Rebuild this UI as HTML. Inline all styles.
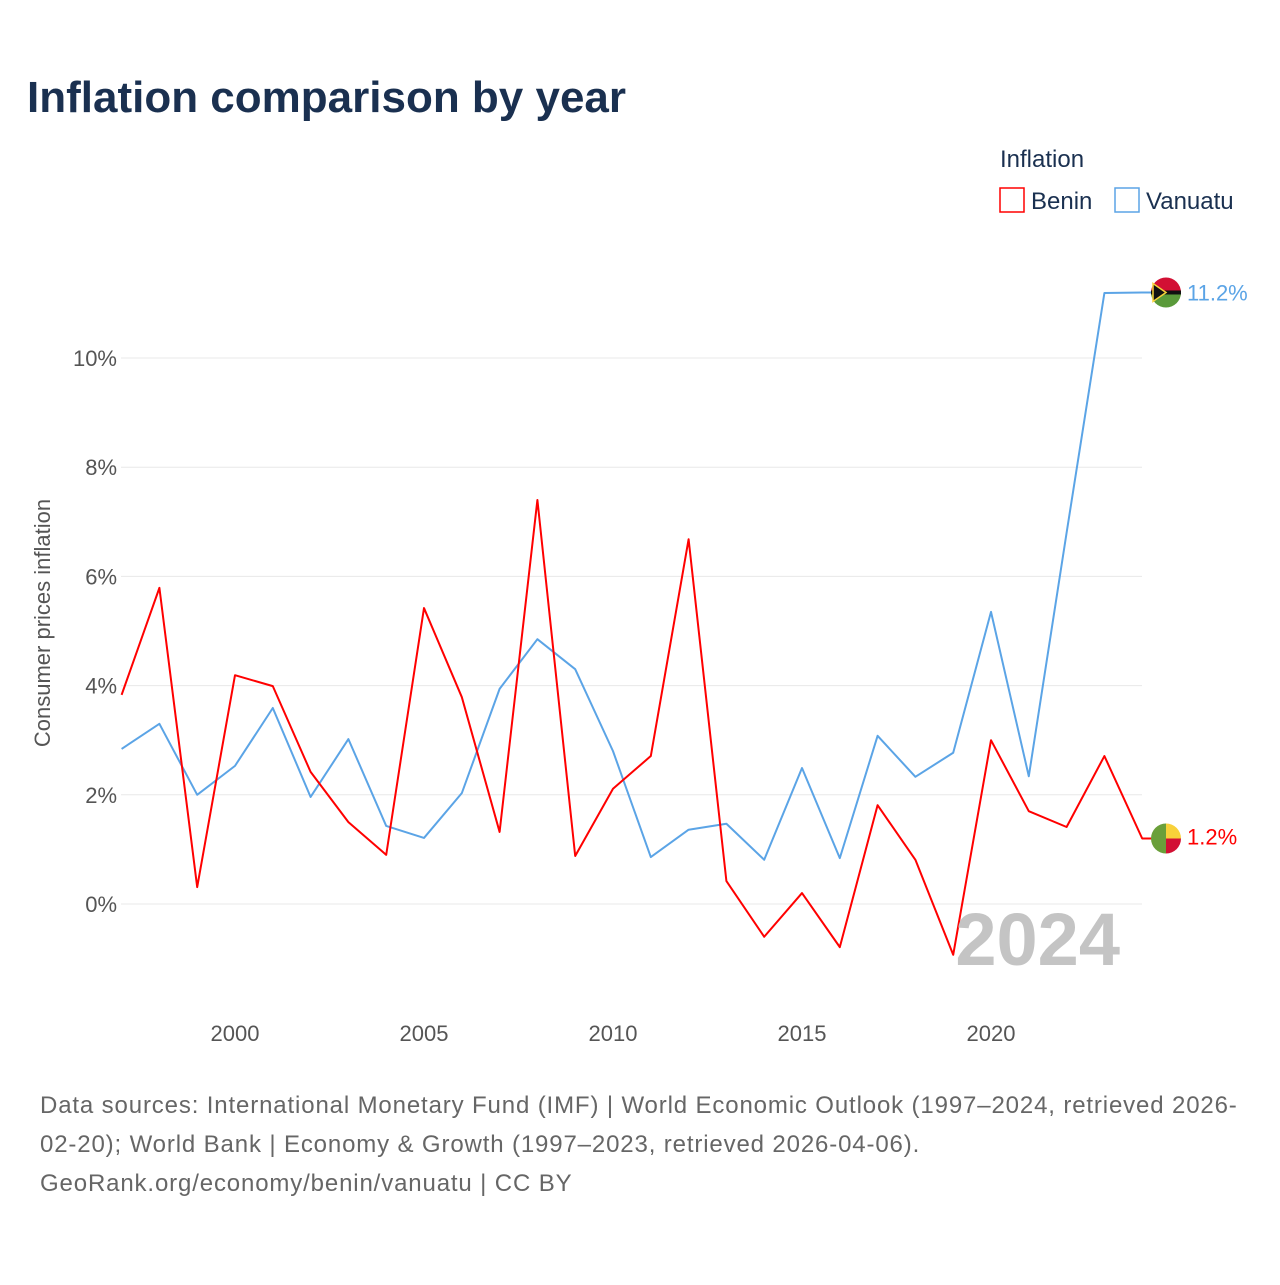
<!DOCTYPE html>
<html><head><meta charset="utf-8"><style>
body{margin:0;background:#fff;font-family:"Liberation Sans",sans-serif}
</style></head><body>
<svg width="1280" height="1280" id="chart" xmlns="http://www.w3.org/2000/svg">
<text x="27" y="112" font-size="44" font-weight="bold" fill="#1a3050">Inflation comparison by year</text>
<text x="1000" y="167" font-size="24" fill="#1a3050">Inflation</text>
<g><rect x="1000" y="188" width="24" height="24" fill="none" stroke="#ff0000" stroke-width="1.5"/><text x="1031" y="209" font-size="24" fill="#1a3050">Benin</text></g>
<g><rect x="1115" y="188" width="24" height="24" fill="none" stroke="#5ba4e6" stroke-width="1.5"/><text x="1146" y="209" font-size="24" fill="#1a3050">Vanuatu</text></g>
<text transform="translate(50,623) rotate(-90)" text-anchor="middle" font-size="22" fill="#555">Consumer prices inflation</text>
<g id="grid"></g><g id="series"></g>
<text x="1120" y="965" text-anchor="end" font-size="74" font-weight="bold" fill="#c4c4c4">2024</text>
<text font-size="24" fill="#666" letter-spacing="0.86"><tspan x="40" y="1113">Data sources: International Monetary Fund (IMF) | World Economic Outlook (1997–2024, retrieved 2026-</tspan><tspan x="40" y="1152">02-20); World Bank | Economy &amp; Growth (1997–2023, retrieved 2026-04-06).</tspan><tspan x="40" y="1191">GeoRank.org/economy/benin/vanuatu | CC BY</tspan></text>
</svg>
<script>
const years=[1997,1998,1999,2000,2001,2002,2003,2004,2005,2006,2007,2008,2009,2010,2011,2012,2013,2014,2015,2016,2017,2018,2019,2020,2021,2022,2023,2024];
const benin=[3.83,5.79,0.31,4.19,3.99,2.42,1.50,0.90,5.42,3.79,1.32,7.40,0.88,2.11,2.71,6.68,0.42,-0.60,0.20,-0.79,1.81,0.81,-0.93,3.00,1.70,1.41,2.71,1.2];
const vanuatu=[2.84,3.30,2.00,2.53,3.59,1.96,3.02,1.43,1.21,2.03,3.94,4.85,4.30,2.80,0.86,1.36,1.47,0.81,2.49,0.84,3.08,2.33,2.77,5.35,2.34,6.8,11.19,11.2];
const yTicks=[0,2,4,6,8,10];
const xTicks=[2000,2005,2010,2015,2020];
const NS="http://www.w3.org/2000/svg";
const X=y=>235+(y-2000)*37.8;
const Y=v=>904-v*54.6;
const grid=document.getElementById('grid'),ser=document.getElementById('series');
function mk(tag,attrs,parent){const e=document.createElementNS(NS,tag);for(const k in attrs)e.setAttribute(k,attrs[k]);parent.appendChild(e);return e;}
yTicks.forEach(t=>{
 const l=mk('line',{x1:121,x2:1142,y1:Y(t),y2:Y(t),stroke:'#e8e8e8','stroke-width':1},grid);
 
 
 const tx=mk('text',{x:117,y:Y(t)+8,'text-anchor':'end','font-size':22,fill:'#555'},grid);tx.textContent=t+'%';
 
 
});
xTicks.forEach(t=>{
 const tx=mk('text',{x:X(t),y:1041,'text-anchor':'middle','font-size':22,fill:'#555'},grid);tx.textContent=t;
 
 
});
function line(vals,color,name){
 let d=vals.map((v,i)=>(i?'L':'M')+X(years[i])+','+Y(v)).join(' ');
 d+=' L1152,'+Y(vals[vals.length-1]);
 const p=mk('path',{d:d,fill:'none',stroke:color,'stroke-width':2,'stroke-linejoin':'round'},ser);
 
 
}
line(vanuatu,'#5ba4e6','vanuatu');line(benin,'#ff0000','benin');
function flag(v,kind){
 const cy=Y(v),cx=1166;
 const g=mk('g',{},ser);
 
 
 if(kind==='benin'){
  mk('path',{d:`M${cx},${cy-15} A15,15 0 0 0 ${cx},${cy+15} Z`,fill:'#6a9f3a'},g);
  mk('path',{d:`M${cx},${cy-15} A15,15 0 0 1 ${cx+15},${cy} L${cx},${cy} Z`,fill:'#f8d13a'},g);
  mk('path',{d:`M${cx},${cy+15} A15,15 0 0 0 ${cx+15},${cy} L${cx},${cy} Z`,fill:'#d21034'},g);
 }else{
  mk('path',{d:`M${cx-15},${cy} A15,15 0 0 1 ${cx+15},${cy} Z`,fill:'#d21034'},g);
  mk('path',{d:`M${cx-15},${cy} A15,15 0 0 0 ${cx+15},${cy} Z`,fill:'#5a9a3a'},g);
  mk('rect',{x:cx-15,y:cy-2,width:30,height:4,fill:'#111'},g);
  mk('path',{d:`M${cx-13},${cy-9} L${cx},${cy} L${cx-13},${cy+9} Z`,fill:'#111',stroke:'#f8d13a','stroke-width':1.5},g);
 }
}
flag(vanuatu[27],'vanuatu');flag(benin[27],'benin');
const lv=mk('text',{x:1187,y:Y(vanuatu[27])+8,'font-size':22,fill:'#5ba4e6'},ser);lv.textContent=vanuatu[27].toFixed(1)+'%';


const lb=mk('text',{x:1187,y:Y(benin[27])+6,'font-size':22,fill:'#ff0000'},ser);lb.textContent=benin[27].toFixed(1)+'%';


</script>
</body></html>
